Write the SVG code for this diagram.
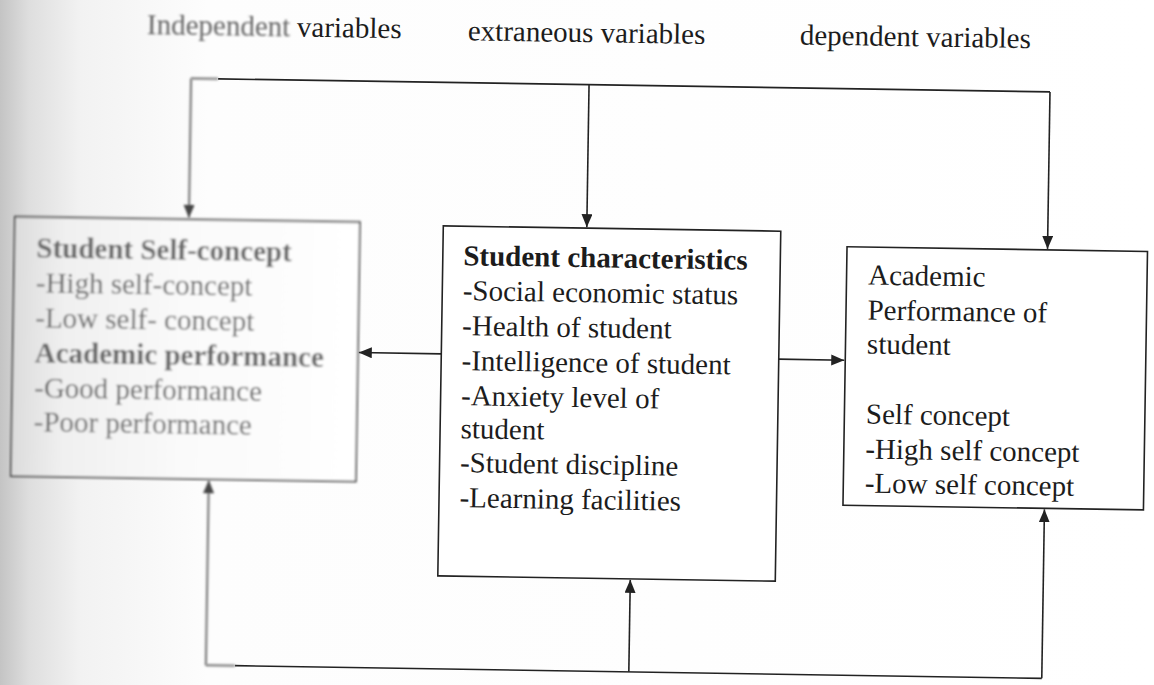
<svg xmlns="http://www.w3.org/2000/svg" width="1154" height="685" viewBox="0 0 1154 685">
  <defs>
    <style>
      .t { font-family: "Liberation Serif", "Times New Roman", serif; font-size: 29px; fill: #1c1c1c; }
      .b { font-weight: bold; }
      .g { fill: #666666; }
      .box { fill: #ffffff; stroke: #222; stroke-width: 1.6; }
      .ln { fill: none; stroke: #222; stroke-width: 1.6; }
      .soft { stroke: #7a7a7a; stroke-width: 2.2; }
    </style>
    <linearGradient id="page" x1="0" y1="0" x2="1" y2="0">
      <stop offset="0" stop-color="#c4c4c4"/>
      <stop offset="0.025" stop-color="#dedede"/>
      <stop offset="0.07" stop-color="#f2f2f2"/>
      <stop offset="0.18" stop-color="#fdfdfd"/>
      <stop offset="1" stop-color="#ffffff"/>
    </linearGradient>
    <linearGradient id="lbox" x1="0" y1="0" x2="1" y2="0">
      <stop offset="0" stop-color="#dcdcdc"/>
      <stop offset="0.15" stop-color="#f0f0f0"/>
      <stop offset="0.5" stop-color="#fafafa"/>
      <stop offset="1" stop-color="#ffffff"/>
    </linearGradient>
    <filter id="blur" filterUnits="userSpaceOnUse" x="-60" y="-60" width="1280" height="820">
      <feGaussianBlur stdDeviation="1.3"/>
    </filter>
    <marker id="arr" markerUnits="userSpaceOnUse" markerWidth="14" markerHeight="12" refX="13" refY="5.5" orient="auto">
      <path d="M0,0 L13,5.5 L0,11 z" fill="#222"/>
    </marker>
    <marker id="arrg" markerUnits="userSpaceOnUse" markerWidth="14" markerHeight="12" refX="13" refY="5.5" orient="auto">
      <path d="M0,0 L13,5.5 L0,11 z" fill="#444"/>
    </marker>
  </defs>

  <rect x="0" y="0" width="1154" height="685" fill="url(#page)"/>

  <g transform="rotate(0.9 577 342)">
    <g id="headers">
      <text class="t g" x="142" y="41" filter="url(#blur)">Independent</text>
      <text class="t" x="292" y="41">variables</text>
      <text class="t" x="463" y="42">extraneous variables</text>
      <text class="t" x="795" y="41">dependent variables</text>
    </g>

    <g id="connectors">
      <path class="ln" d="M214,84.5 H1046"/>
      <path class="ln soft" d="M187,84.5 H214" filter="url(#blur)"/>
      <path class="ln soft" d="M187,84.5 V224" marker-end="url(#arrg)" filter="url(#blur)"/>
      <path class="ln" d="M585,84.5 V227" marker-end="url(#arr)"/>
      <path class="ln" d="M1046,84.5 V241.5" marker-end="url(#arr)"/>
      <path class="ln" d="M441.5,356 H359" marker-end="url(#arr)"/>
      <path class="ln" d="M779,356 H844.5" marker-end="url(#arr)"/>
      <path class="ln" d="M240,671 H1047"/>
      <path class="ln soft" d="M211,671 H240" filter="url(#blur)"/>
      <path class="ln soft" d="M211,671 V486" marker-end="url(#arrg)" filter="url(#blur)"/>
      <path class="ln" d="M634,671 V579" marker-end="url(#arr)"/>
      <path class="ln" d="M1047,671 V502" marker-end="url(#arr)"/>
    </g>

    <g id="independent" filter="url(#blur)">
      <rect x="13" y="225.5" width="345" height="259.5" fill="url(#lbox)" stroke="#444" stroke-width="1.8"/>
      <text class="t g b" x="35" y="266">Student Self-concept</text>
      <text class="t g" x="35" y="301">-High self-concept</text>
      <text class="t g" x="35" y="336">-Low self- concept</text>
      <text class="t g b" x="35" y="371">Academic performance</text>
      <text class="t g" x="35" y="406">-Good performance</text>
      <text class="t g" x="35" y="440">-Poor performance</text>
    </g>

    <g id="extraneous">
      <rect class="box" x="441.5" y="228" width="337.5" height="350"/>
      <text class="t b" x="462" y="267">Student characteristics</text>
      <text class="t" x="462" y="302">-Social economic status</text>
      <text class="t" x="462" y="337">-Health of student</text>
      <text class="t" x="462" y="372">-Intelligence of student</text>
      <text class="t" x="462" y="407">-Anxiety level of</text>
      <text class="t" x="462" y="440">student</text>
      <text class="t" x="462" y="474">-Student discipline</text>
      <text class="t" x="462" y="509">-Learning facilities</text>
    </g>

    <g id="dependent">
      <rect class="box" x="845.5" y="242.5" width="300.5" height="258.5"/>
      <text class="t" x="867" y="280">Academic</text>
      <text class="t" x="867" y="315">Performance of</text>
      <text class="t" x="867" y="349">student</text>
      <text class="t" x="867" y="419">Self concept</text>
      <text class="t" x="867" y="454">-High self concept</text>
      <text class="t" x="867" y="488">-Low self concept</text>
    </g>
  </g>
</svg>
